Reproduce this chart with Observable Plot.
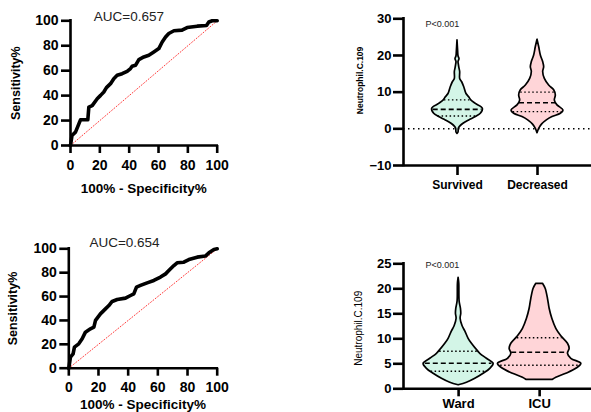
<!DOCTYPE html>
<html><head><meta charset="utf-8">
<script src="https://cdn.jsdelivr.net/npm/d3@7"></script>
<script src="https://cdn.jsdelivr.net/npm/@observablehq/plot@0.6"></script>
<style>
body{margin:0;background:#fff;}
#wrap{position:relative;width:591px;height:412px;overflow:hidden;background:#fff;}
.panel{position:absolute;}
.panel svg{overflow:visible;}
</style></head><body><div id="wrap"></div>
<script>
// ---- ROC 1 (mortality) ----
const roc1Fpr = [0, 1, 3.4, 5.7, 6.8, 11.8, 12.5, 14.8, 18.2, 20.5, 22.7, 24.5, 27.3, 29.5, 31.8, 35.2, 38.6, 40.9, 42, 44.3, 46.6, 50, 53.4, 56.8, 60.2, 62.5, 64.8, 67, 70.5, 76, 79.5, 86.4, 92.7, 94.3, 96.6, 100];
const roc1Tpr = [0, 8, 10.7, 17.4, 20.6, 20.6, 30.8, 32, 37.5, 40.2, 42.9, 46.4, 49.6, 53.6, 56.3, 57.6, 59.5, 61.7, 63.5, 64.3, 68.9, 71, 72.4, 75, 77.7, 83, 87, 89.8, 92, 92.5, 94.6, 95.7, 96.2, 99, 100, 100];
const roc1Label = "AUC=0.657";
// ---- ROC 2 (ward / ICU) ----
const roc2Fpr = [0, 1.1, 2.9, 3.8, 6.7, 9, 11.2, 14.6, 16.9, 18, 21.3, 24.7, 27, 29.2, 32.6, 38.2, 41.6, 43.8, 45.6, 48.3, 52.8, 57.3, 61.8, 65.2, 67.4, 70.8, 73, 77.5, 80.9, 86.5, 92, 94.4, 97.8, 100];
const roc2Tpr = [0, 9.2, 12, 17.6, 20.4, 24.6, 30.2, 33, 34.4, 40, 45.5, 49.7, 52.5, 55.9, 57.5, 58.7, 60.9, 62.3, 67.9, 69.3, 71.5, 73.5, 76.3, 79, 81.8, 86, 88.3, 88.8, 91, 93, 93.9, 96.6, 99.4, 100];
const roc2Label = "AUC=0.654";
const rocTicks = [0, 20, 40, 60, 80, 100];
const chanceLine = [0, 100];

// ---- Violin 1: Survived / Decreased ----
const mortalityGroups = ["Survived", "Decreased"];
const survivedV = [-1.4, -1.0, 0, 0.6, 1.4, 2.3, 3.2, 4.1, 5.5, 6.8, 7.7, 8.6, 9.5, 11.4, 12.7, 13.6, 15.5, 16.4, 17.5, 18.2, 19, 19.8, 21, 24.1];
const survivedD = [0, 3, 4, 8, 18, 35, 55, 70, 76, 55, 42, 35, 27, 20, 14, 8, 8, 6, 4, 3, 6, 3, 2, 0];
const decreasedV = [-1.2, 0, 1.2, 2.3, 3.2, 4.1, 5, 6.4, 7.7, 9.1, 10.5, 11.8, 13.6, 15.5, 16.8, 18.2, 20, 22.3, 24.3];
const decreasedD = [0, 5, 14, 28, 45, 70, 78, 60, 52, 55, 50, 35, 22, 17, 20, 17, 10, 5, 0];
const survivedQ = [3.5, 5.3, 7.9];
const decreasedQ = [4.7, 7.1, 10.0];
const violin1Ticks = [-10, 0, 10, 20, 30];

// ---- Violin 2: Ward / ICU ----
const wardGroups = ["Ward", "ICU"];
const wardV = [0.7, 1.2, 2, 3, 4, 5, 6, 7, 8, 9, 10, 11.5, 12.5, 14, 15, 16, 17.5, 21, 22.2];
const wardD = [0, 25, 50, 75, 95, 105, 85, 65, 52, 40, 30, 20, 12, 6, 8, 7, 3, 2, 0];
const icuV = [1.8, 2.2, 3, 4, 5, 6, 7, 8, 9, 10.5, 12, 14, 16, 18, 20, 21];
const icuD = [40, 50, 80, 110, 125, 95, 85, 90, 85, 65, 50, 38, 30, 25, 18, 10];
const wardQ = [3.5, 5.1, 7.5];
const icuQ = [4.7, 7.3, 10.2];
const violin2Ticks = [0, 5, 10, 15, 20, 25];

const pLabel = "P<0.001";
const yLabel = "Neutrophil.C.109";
const FONT = "Arial, 'Liberation Sans', sans-serif";

function place(node, left, top, w, h) {
  const d = document.createElement("div");
  d.className = "panel";
  d.style.left = left + "px"; d.style.top = top + "px";
  d.style.width = w + "px"; d.style.height = h + "px";
  d.appendChild(node);
  document.getElementById("wrap").appendChild(d);
}

function rocPlot(fpr, tpr, auc, o) {
  const pts = fpr.map((x, i) => ({x, y: tpr[i]}));
  const diag = chanceLine.map(v => ({x: v, y: v}));
  return Plot.plot({
    width: o.w, height: o.h,
    marginLeft: o.ml, marginRight: o.mr, marginTop: o.mt, marginBottom: o.mb,
    style: {fontFamily: FONT, background: "transparent", overflow: "visible", color: "#000"},
    x: {domain: [0, 100]}, y: {domain: [0, 100]},
    marks: [
      Plot.line(diag, {x: "x", y: "y", stroke: "#ff3b3b", strokeWidth: 1, strokeDasharray: "1,2"}),
      Plot.line(pts, {x: "x", y: "y", stroke: "#000", strokeWidth: 3.6, strokeLinejoin: "round", strokeLinecap: "round"}),
      Plot.ruleX([0], {y1: 0, y2: 100, strokeWidth: 2.6, strokeLinecap: "square"}),
      Plot.ruleY([0], {x1: 0, x2: 100, strokeWidth: 2.6, strokeLinecap: "square"}),
      Plot.axisY({ticks: rocTicks, tickSize: 9, tickPadding: 3, fontSize: 14, fontWeight: "bold", strokeWidth: 2.6, label: null}),
      Plot.axisX({ticks: rocTicks, tickSize: 8, tickPadding: o.xpad, fontSize: 14, fontWeight: "bold", strokeWidth: 2.6, label: null}),
      Plot.text([auc], {frameAnchor: "top", textAnchor: "middle", lineAnchor: "middle", dx: o.aucDx, dy: o.aucDy, fontSize: 13.5, fill: "#222"}),
      Plot.text(["Sensitivity%"], {frameAnchor: "left", rotate: -90, textAnchor: "middle", lineAnchor: "middle", dx: o.ylDx, fontSize: 12.5, fontWeight: "bold"}),
      Plot.text(["100% - Specificity%"], {frameAnchor: "bottom", textAnchor: "middle", lineAnchor: "middle", dy: o.xlDy, fontSize: 13.5, fontWeight: "bold"})
    ]
  });
}

function violinPlot(groups, shapes, quarts, ticks, o) {
  const marks = [];
  if (o.zero) marks.push(Plot.ruleY([0], {strokeDasharray: "1.5,3.5", strokeWidth: 1.5}));
  const fills = ["#d3f5e7", "#ffd5d8"];
  shapes.forEach(([vs, ds], i) => {
    const pos = i + 1;
    const rows = vs.map((v, j) => ({v, w: ds[j]}));
    marks.push(Plot.areaX(rows, {y: "v", x1: d => pos - d.w * o.k, x2: d => pos + d.w * o.k,
      fill: fills[i], stroke: "#000", strokeWidth: 1.7, strokeLinejoin: "round", curve: "catmull-rom"}));
    const interp = d3.scaleLinear().domain(vs).range(ds);
    const q = quarts[i].map((v, j) => ({v, w: interp(v) * 0.97, m: j === 1}));
    marks.push(Plot.ruleY(q.filter(d => !d.m), {y: "v", x1: d => pos - d.w * o.k, x2: d => pos + d.w * o.k, strokeWidth: 1.4, strokeDasharray: "1.5,2.5"}));
    marks.push(Plot.ruleY(q.filter(d => d.m), {y: "v", x1: d => pos - d.w * o.k, x2: d => pos + d.w * o.k, strokeWidth: 1.6, strokeDasharray: "5,3"}));
  });
  marks.push(
    Plot.ruleX([o.xd[0]], {y1: o.yd[0], y2: o.yd[1], strokeWidth: 2.6, strokeLinecap: "square"}),
    Plot.ruleY([o.yd[0]], {strokeWidth: 2.6}),
    Plot.axisY({ticks, tickSize: 10, tickPadding: 2, fontSize: 13, fontWeight: "bold", strokeWidth: 2.6, label: null}),
    Plot.axisX({ticks: [1, 2], tickFormat: i => groups[i - 1], tickSize: o.xts, tickPadding: o.xpad, fontSize: o.xfs, fontWeight: "bold", strokeWidth: 2.6, label: null}),
    Plot.text([pLabel], {frameAnchor: "top-left", textAnchor: "start", lineAnchor: "middle", dx: 22, dy: o.pDy, fontSize: 9, fill: "#222"}),
    Plot.text([yLabel], {frameAnchor: "left", rotate: -90, textAnchor: "middle", lineAnchor: "middle", dx: o.ylDx, dy: o.ylDy,
      fontSize: o.ylfs, fontWeight: o.ylfw, fontFamily: o.ylff})
  );
  return Plot.plot({
    width: o.w, height: o.h,
    marginLeft: o.ml, marginRight: 0, marginTop: o.mt, marginBottom: o.mb,
    style: {fontFamily: FONT, background: "transparent", overflow: "visible", color: "#000"},
    x: {domain: o.xd}, y: {domain: o.yd},
    marks
  });
}

place(rocPlot(roc1Fpr, roc1Tpr, roc1Label, {w: 230, h: 200, ml: 70, mr: 13.3, mt: 20.3, mb: 55, xpad: 7, aucDx: -15, aucDy: -4, ylDx: -55, xlDy: 43}), 0, 0, 230, 200);
place(rocPlot(roc2Fpr, roc2Tpr, roc2Label, {w: 230, h: 187, ml: 68.3, mr: 13.3, mt: 23.3, mb: 44.3, xpad: 6, aucDx: -18.5, aucDy: -6.6, ylDx: -55.6, xlDy: 36.5}), 0, 225, 230, 187);
place(violinPlot(mortalityGroups, [[survivedV, survivedD], [decreasedV, decreasedD]], [survivedQ, decreasedQ], violin1Ticks,
  {w: 251, h: 200, ml: 63, mt: 18.3, mb: 35, k: 1 / 240, xd: [0.325, 2.675], yd: [-10, 30], zero: true, xpad: 5, xts: 10, xfs: 12,
   pDy: 5.7, ylDx: -43, ylDy: -11.7, ylfs: 8.5, ylfw: "bold", ylff: FONT}), 340, 0, 251, 200);
place(violinPlot(wardGroups, [[wardV, wardD], [icuV, icuD]], [wardQ, icuQ], violin2Ticks,
  {w: 251, h: 162, ml: 63, mt: 13.3, mb: 23.7, k: 1 / 243, xd: [0.32, 2.64], yd: [0, 25], zero: false, xpad: 2, xts: 8, xfs: 13,
   pDy: 1.7, ylDx: -45, ylDy: 2, ylfs: 10, ylfw: "normal", ylff: "'Liberation Sans Narrow', 'Arial Narrow', sans-serif"}), 340, 250, 251, 162);
</script></body></html>
